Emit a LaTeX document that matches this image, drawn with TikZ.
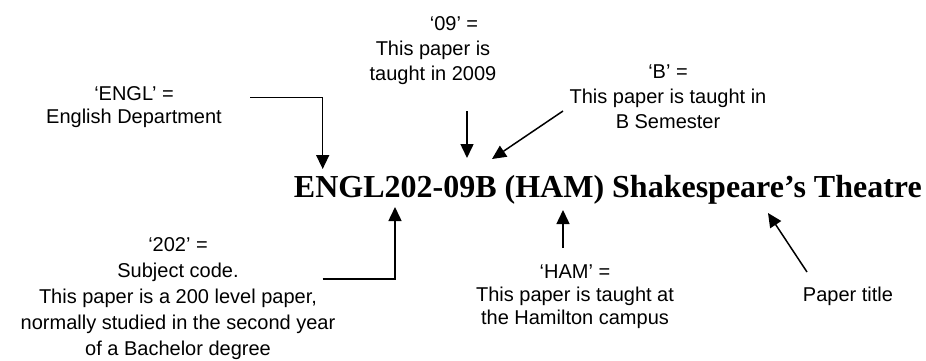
\documentclass[tikz,border=0pt]{standalone}
\usepackage{fontspec}
\setmainfont{Liberation Sans}
\newfontfamily\titlefont{Liberation Serif}
\usetikzlibrary{arrows.meta}
\begin{document}
\begin{tikzpicture}[x=1pt,y=-1pt,
  lbl/.style={align=center,inner sep=0pt,font=\fontsize{20}{25}\selectfont},
  conn/.style={line width=1.5pt,-{Triangle[length=14pt,width=13pt]}}]
\useasboundingbox (0,0) rectangle (926,360);
% title
\node[anchor=base east,inner sep=0pt,font=\titlefont\bfseries\fontsize{32}{38}\selectfont] (title) at (922,197) {ENGL202-09B (HAM) Shakespeare’s Theatre};
% labels
\node[lbl,font=\fontsize{20}{23}\selectfont] (engl) at (134,107.5) {‘ENGL’ =\\English Department};
\node[lbl] (yr) at (433,51) {\hspace*{42pt}‘09’ =\\This paper is\\taught in 2009};
\node[lbl] (sem) at (668,97) {‘B’ =\\This paper is taught in\\B Semester};
\node[lbl,font=\fontsize{20}{26}\selectfont] (code) at (178,298.5) {‘202’ =\\Subject code.\\This paper is a 200 level paper,\\normally studied in the second year\\of a Bachelor degree};
\node[lbl,font=\fontsize{20}{23}\selectfont] (ham) at (575,297) {‘HAM’ =\\This paper is taught at\\the Hamilton campus};
\node[lbl] (ptitle) at (848,296) {Paper title};
% connector points
\coordinate (englS) at (250,97.3);
\coordinate (englC) at (322.7,97.3);
\coordinate (englT) at (322.7,169);
\coordinate (yrS) at (467,111);
\coordinate (yrT) at (467,158);
\coordinate (semS) at (563,111);
\coordinate (semT) at (492,159);
\coordinate (codeS) at (322.7,279);
\coordinate (codeC) at (395,279);
\coordinate (codeT) at (395,207);
\coordinate (hamS) at (563,248);
\coordinate (hamT) at (563,210);
\coordinate (ptS) at (807,272);
\coordinate (ptT) at (768,213);
% connectors
\draw[conn] (englS) -- (englC) -- (englT);
\draw[conn] (yrS) -- (yrT);
\draw[conn] (semS) -- (semT);
\draw[conn] (codeS) -- (codeC) -- (codeT);
\draw[conn] (hamS) -- (hamT);
\draw[conn] (ptS) -- (ptT);
\end{tikzpicture}
\end{document}
